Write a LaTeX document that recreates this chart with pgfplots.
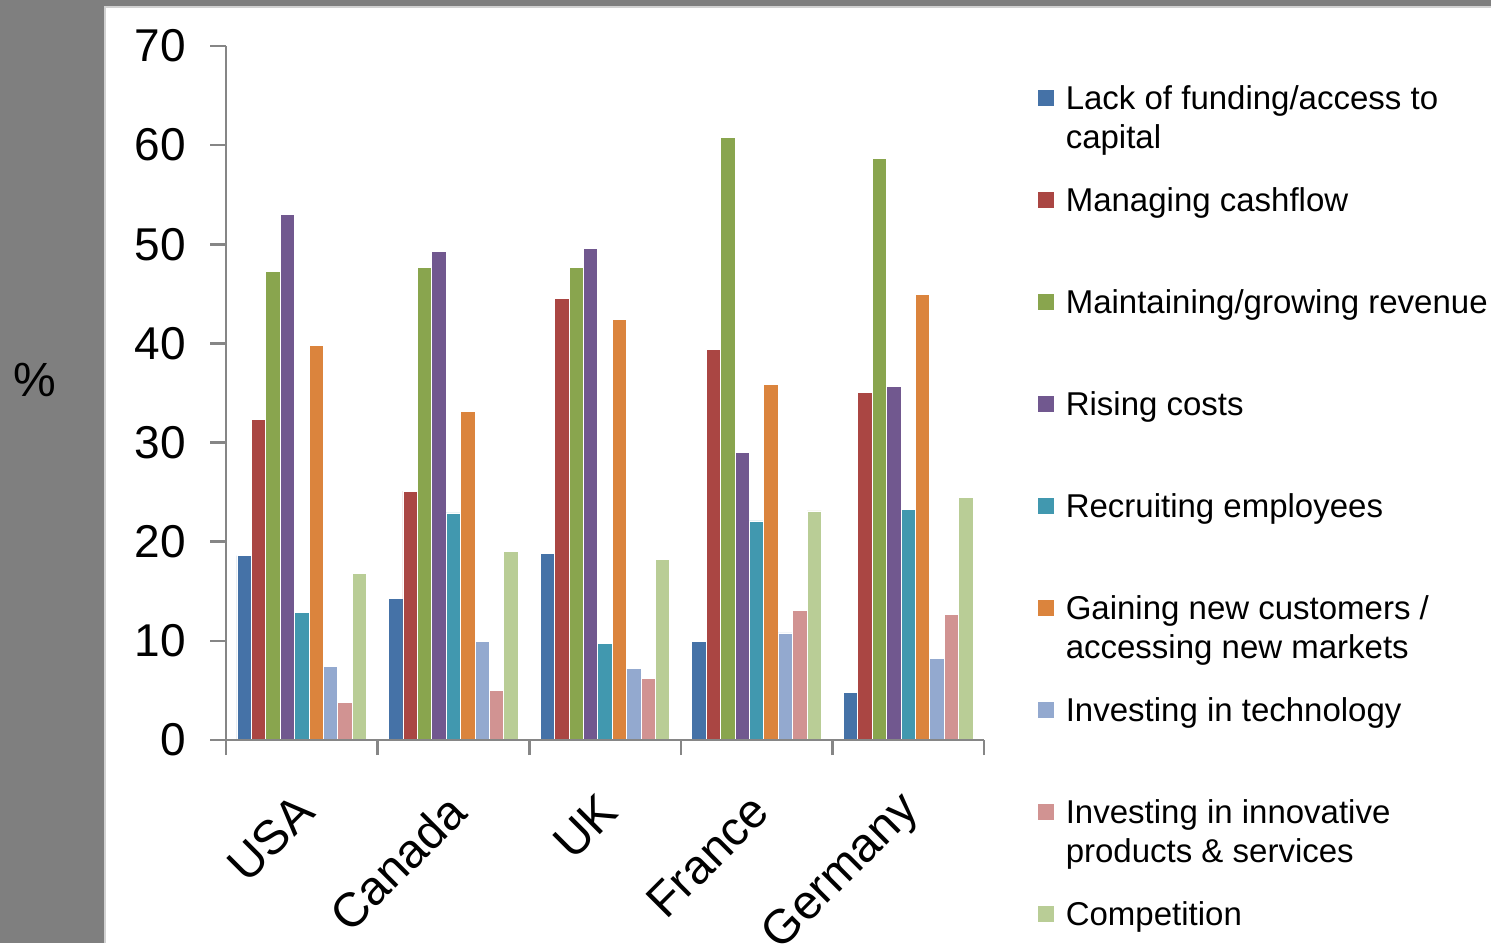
\documentclass[border=0pt]{standalone}
\usepackage{pgfplots}
\pgfplotsset{compat=1.18}
\usepackage{fontspec}
\setmainfont{Liberation Sans}

\definecolor{bggray}{HTML}{7F7F7F}
\definecolor{axisgray}{HTML}{868686}
\definecolor{c1}{HTML}{4572A7}
\definecolor{c2}{HTML}{AA4643}
\definecolor{c3}{HTML}{89A54E}
\definecolor{c4}{HTML}{71588F}
\definecolor{c5}{HTML}{4198AF}
\definecolor{c6}{HTML}{DB843D}
\definecolor{c7}{HTML}{93A9CF}
\definecolor{c8}{HTML}{D19392}
\definecolor{c9}{HTML}{B9CD96}

\begin{document}
\begin{tikzpicture}
% slide background
\fill[bggray] (0,0) rectangle (745.5pt,471.5pt);
\fill[white] (52.5pt,0) rectangle (745.5pt,468pt);
\draw[gray!35, line width=0.8pt] (52.5pt,0) -- (52.5pt,468pt) -- (745.5pt,468pt);
\node[font=\fontsize{24}{24}\selectfont] at (17.5pt,281.5pt) {\%};

\begin{axis}[
  at={(113pt,101.5pt)}, anchor=south west,
  scale only axis, width=379pt, height=347pt,
  axis on top,
  ybar=0pt, bar width=0.095,
  xmin=-0.5, xmax=4.5, ymin=0, ymax=70,
  axis x line*=bottom, axis y line*=left,
  axis line style={axisgray, line width=1.3pt},
  tick align=outside,
  major tick length=8pt, minor tick length=7.5pt,
  tick style={axisgray, line width=1.3pt},
  major x tick style={draw=none},
  xtick={0,...,4},
  xticklabels={USA,Canada,UK,France,Germany},
  minor xtick={-0.5,0.5,...,4.5},
  ytick={0,10,...,70},
  /pgf/number format/assume math mode=true,
  yticklabel style={font=\fontsize{23}{23}\selectfont, text=black, xshift=-8.5pt},
  xticklabel style={font=\fontsize{24}{24}\selectfont, text=black, inner sep=0pt,
    xshift=2pt, yshift=-23.5pt, rotate=45, anchor=east},
  every axis plot/.append style={draw=white, line width=0.4pt},
  legend image code/.code={\fill[#1] (0pt,2pt) rectangle (8.5pt,10.5pt);},
  legend cell align=left,
  legend style={at={(1.0699,0.9424)}, anchor=north west, draw=none, fill=none,
    inner sep=0pt, outer sep=0pt, row sep=0pt, column sep=5.5pt,
    nodes={inner sep=0pt, anchor=base west, text height=12pt, text depth=39pt,
      font=\fontsize{16.5}{19.5}\selectfont}},
]
\addplot[fill=c1] coordinates {(0,18.6) (1,14.3) (2,18.8) (3,9.9) (4,4.8)};
\addlegendentry{\parbox[t]{230pt}{Lack of funding/access to\\capital}}
\addplot[fill=c2] coordinates {(0,32.3) (1,25.1) (2,44.5) (3,39.4) (4,35.1)};
\addlegendentry{Managing cashflow}
\addplot[fill=c3] coordinates {(0,47.3) (1,47.7) (2,47.7) (3,60.8) (4,58.7)};
\addlegendentry{Maintaining/growing revenue}
\addplot[fill=c4] coordinates {(0,53.0) (1,49.3) (2,49.6) (3,29.0) (4,35.7)};
\addlegendentry{Rising costs}
\addplot[fill=c5] coordinates {(0,12.9) (1,22.9) (2,9.75) (3,22.1) (4,23.3)};
\addlegendentry{Recruiting employees}
\addplot[fill=c6] coordinates {(0,39.8) (1,33.1) (2,42.4) (3,35.9) (4,44.9)};
\addlegendentry{\parbox[t]{230pt}{Gaining new customers /\\accessing new markets}}
\addplot[fill=c7] coordinates {(0,7.4) (1,9.9) (2,7.2) (3,10.8) (4,8.2)};
\addlegendentry{Investing in technology}
\addplot[fill=c8] coordinates {(0,3.8) (1,5.0) (2,6.2) (3,13.1) (4,12.7)};
\addlegendentry{\parbox[t]{230pt}{Investing in innovative\\products \& services}}
\addplot[fill=c9] coordinates {(0,16.8) (1,19.0) (2,18.2) (3,23.1) (4,24.5)};
\addlegendentry{Competition}
\end{axis}

\pgfresetboundingbox
\useasboundingbox (0,0) rectangle (745.5pt,471.5pt);
\end{tikzpicture}
\end{document}
